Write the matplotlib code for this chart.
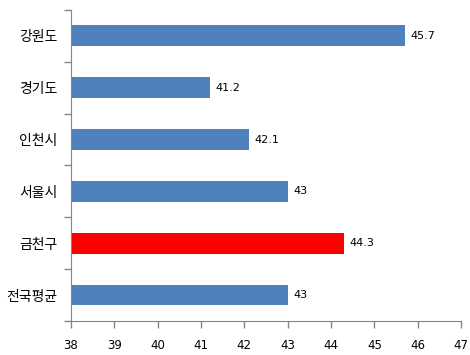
import matplotlib
matplotlib.use("Agg")
import matplotlib.pyplot as plt
import numpy as np

plt.rcParams['font.family'] = ['Noto Sans CJK KR', 'DejaVu Sans']

regions = ["강원도", "경기도", "인천시", "서울시", "금천구", "전국평균"]
values = [45.7, 41.2, 42.1, 43, 44.3, 43]
labels = ["45.7", "41.2", "42.1", "43", "44.3", "43"]
colors = ["#4F81BD", "#4F81BD", "#4F81BD", "#4F81BD", "#FF0000", "#4F81BD"]
xticks = [38, 39, 40, 41, 42, 43, 44, 45, 46, 47]

fig = plt.figure(figsize=(4.7, 3.55), dpi=100)
ax = fig.add_axes([0.151, 0.096, 0.830, 0.876])

y = np.arange(len(regions))
ax.barh(y, [v - 38 for v in values], left=38, height=0.4, color=colors)
for yi, v, lab in zip(y, values, labels):
    ax.text(v + 0.13, yi, lab, va='center', ha='left', fontsize=8,
            family='DejaVu Sans')

ax.set_xlim(38, 47)
ax.set_ylim(len(regions) - 0.5, -0.5)
ax.set_xticks(xticks)
ax.set_xticklabels([str(t) for t in xticks], fontsize=8.5, family='DejaVu Sans')
ax.set_yticks(y)
ax.set_yticklabels(regions, fontsize=10)
ax.set_yticks(np.arange(-0.5, len(regions), 1), minor=True)
ax.tick_params(axis='y', which='major', length=0, pad=10)
ax.tick_params(axis='y', which='minor', length=5, color='#868686', width=1)
ax.tick_params(axis='x', length=5, color='#868686', width=1, pad=8)

for s in ['top', 'right']:
    ax.spines[s].set_visible(False)
for s in ['left', 'bottom']:
    ax.spines[s].set_color('#868686')

fig.savefig("out.png", dpi=100)
